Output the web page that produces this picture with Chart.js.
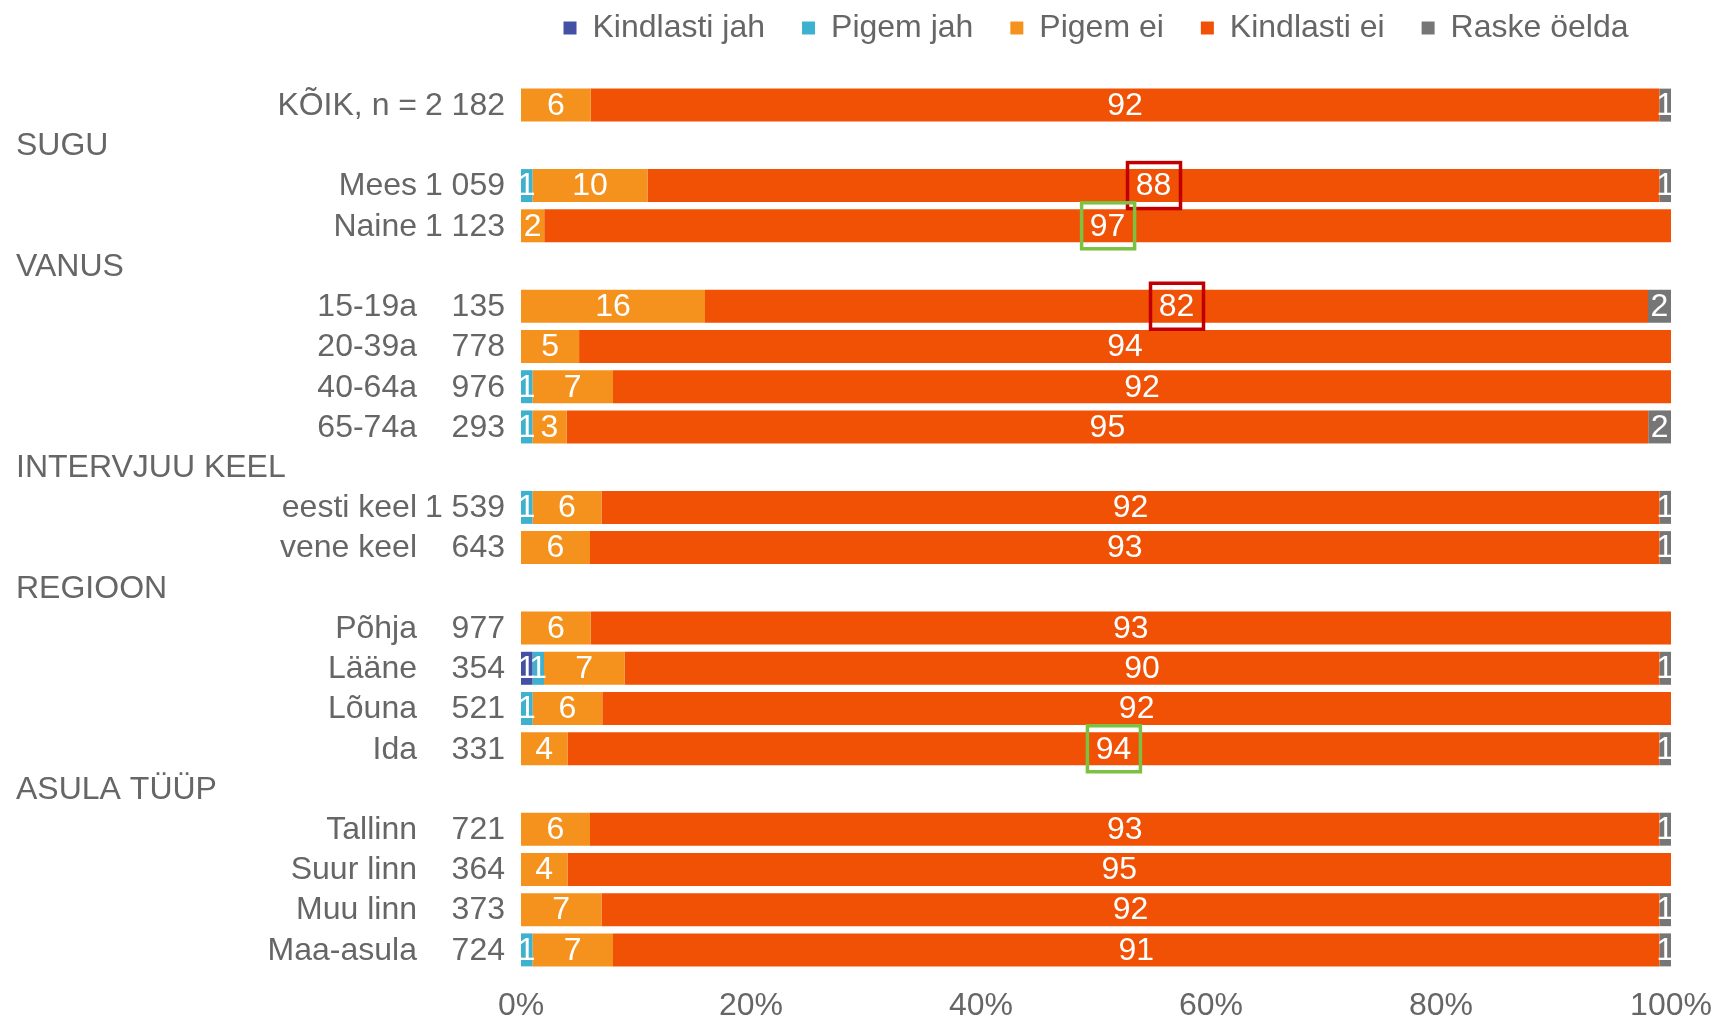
<!DOCTYPE html>
<html>
<head>
<meta charset="utf-8">
<script src="https://cdn.jsdelivr.net/npm/chart.js@4/dist/chart.umd.min.js"></script>
<style>
  html, body { margin: 0; padding: 0; background: #fff; }
</style>
</head>
<body>
<canvas id="myChart" width="1716" height="1020"></canvas>
<script>
// rows top to bottom; rowN === null marks a section header
var rowNames = ['KÕIK, n =', 'SUGU', 'Mees', 'Naine', 'VANUS', '15-19a', '20-39a', '40-64a', '65-74a',
  'INTERVJUU KEEL', 'eesti keel', 'vene keel', 'REGIOON', 'Põhja', 'Lääne', 'Lõuna', 'Ida',
  'ASULA TÜÜP', 'Tallinn', 'Suur linn', 'Muu linn', 'Maa-asula'];
var rowN = ['2 182', null, '1 059', '1 123', null, '135', '778', '976', '293',
  null, '1 539', '643', null, '977', '354', '521', '331',
  null, '721', '364', '373', '724'];

var kindlastiJah = [0, null, 0, 0, null, 0, 0, 0, 0, null, 0, 0, null, 0, 1, 0, 0, null, 0, 0, 0, 0];
var pigemJah     = [0, null, 1, 0, null, 0, 0, 1, 1, null, 1, 0, null, 0, 1, 1, 0, null, 0, 0, 0, 1];
var pigemEi      = [6, null, 10, 2, null, 16, 5, 7, 3, null, 6, 6, null, 6, 7, 6, 4, null, 6, 4, 7, 7];
var kindlastiEi  = [92, null, 88, 97, null, 82, 94, 92, 95, null, 92, 93, null, 93, 90, 92, 94, null, 93, 95, 92, 91];
var raskeOelda   = [1, null, 1, 0, null, 2, 0, 0, 2, null, 1, 1, null, 0, 1, 0, 1, null, 1, 0, 1, 1];

var xTicks = [0, 20, 40, 60, 80, 100];

// rows whose "Kindlasti ei" label gets a frame
var markedRed = [2, 5];
var markedGreen = [3, 16];

var textColor = '#666666';
var fontFamily = '"Liberation Sans", Arial, sans-serif';

var series = [kindlastiJah, pigemJah, pigemEi, kindlastiEi, raskeOelda];

// 100% stacked: each row scaled to its own total
function share(values) {
  return values.map(function (v, i) {
    if (v === null || v === 0) return null;
    var total = 0;
    series.forEach(function (s) { total += s[i] || 0; });
    return v / total * 100;
  });
}

var legendSpacer = {
  id: 'legendSpacer',
  beforeInit: function (chart) {
    var fitLegend = chart.legend.fit;
    chart.legend.fit = function () {
      fitLegend.bind(chart.legend)();
      this.height = 110;
    };
  }
};

var rowLabels = {
  id: 'rowLabels',
  afterDraw: function (chart) {
    var ctx = chart.ctx;
    var yScale = chart.scales.y;
    var left = chart.chartArea.left;
    ctx.save();
    ctx.font = '32px ' + fontFamily;
    ctx.fillStyle = textColor;
    ctx.textBaseline = 'middle';
    rowNames.forEach(function (name, i) {
      var y = yScale.getPixelForValue(i) + 1;
      if (rowN[i] === null) {
        ctx.textAlign = 'left';
        ctx.fillText(name, 16, y);
      } else {
        ctx.textAlign = 'right';
        ctx.fillText(name, left - 104, y);
        ctx.fillText(rowN[i], left - 16, y);
      }
    });
    ctx.restore();
  }
};

var barLabels = {
  id: 'barLabels',
  afterDatasetsDraw: function (chart) {
    var ctx = chart.ctx;
    ctx.save();
    ctx.font = '32px ' + fontFamily;
    ctx.textAlign = 'center';
    ctx.textBaseline = 'middle';
    chart.data.datasets.forEach(function (ds, d) {
      var meta = chart.getDatasetMeta(d);
      meta.data.forEach(function (bar, i) {
        var v = ds.rawValues[i];
        if (!v) return;
        var cx = (bar.x + bar.base) / 2;
        ctx.fillStyle = '#ffffff';
        ctx.fillText(String(v), cx, bar.y + 1);
        var frame = null;
        if (d === 3 && markedRed.indexOf(i) >= 0) frame = '#C00000';
        if (d === 3 && markedGreen.indexOf(i) >= 0) frame = '#7CC142';
        if (frame) {
          ctx.strokeStyle = frame;
          ctx.lineWidth = 3.5;
          ctx.strokeRect(cx - 26, bar.y - 23, 53, 46);
        }
      });
    });
    ctx.restore();
  }
};

var ctx = document.getElementById('myChart').getContext('2d');
var chart = new Chart(ctx, {
  type: 'bar',
  data: {
    labels: rowNames,
    datasets: [
      { label: 'Kindlasti jah', backgroundColor: '#4350A3', data: share(kindlastiJah), rawValues: kindlastiJah },
      { label: 'Pigem jah', backgroundColor: '#3DB1CE', data: share(pigemJah), rawValues: pigemJah },
      { label: 'Pigem ei', backgroundColor: '#F5921E', data: share(pigemEi), rawValues: pigemEi },
      { label: 'Kindlasti ei', backgroundColor: '#F05105', data: share(kindlastiEi), rawValues: kindlastiEi },
      { label: 'Raske öelda', backgroundColor: '#767676', data: share(raskeOelda), rawValues: raskeOelda },
    ],
  },
  plugins: [legendSpacer, rowLabels, barLabels],
  options: {
    indexAxis: 'y',
    responsive: false,
    animation: false,
    devicePixelRatio: 1,
    barPercentage: 0.82,
    categoryPercentage: 1,
    layout: {
      padding: { top: -25, left: 521, right: 45, bottom: 0 },
    },
    plugins: {
      tooltip: { enabled: false },
      legend: {
        position: 'top',
        fullSize: false,
        labels: {
          boxWidth: 13,
          boxHeight: 13,
          padding: 37,
          color: textColor,
          font: { size: 32, family: fontFamily },
        },
      },
    },
    scales: {
      x: {
        stacked: true,
        min: 0,
        max: 100,
        afterBuildTicks: function (scale) {
          scale.ticks = xTicks.map(function (v) { return { value: v }; });
        },
        afterFit: function (scale) {
          scale.height = 50;
        },
        grid: { display: false, drawTicks: false },
        border: { display: false },
        ticks: {
          padding: 4,
          color: textColor,
          font: { size: 32, family: fontFamily, lineHeight: 2 },
          maxRotation: 0,
          callback: function (v) { return v + '%'; },
        },
      },
      y: {
        stacked: true,
        grid: { display: false, drawTicks: false },
        border: { display: false },
        ticks: { display: false },
      },
    },
  },
});
</script>
</body>
</html>
